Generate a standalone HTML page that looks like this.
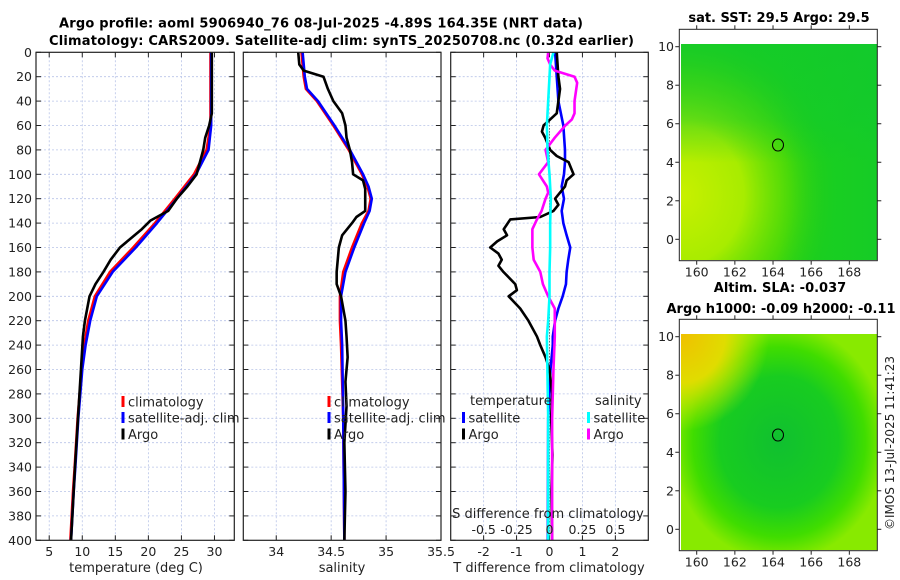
<!DOCTYPE html>
<html><head><meta charset="utf-8">
<style>
html,body{margin:0;padding:0;background:#fff;}
svg{display:block;font-family:"DejaVu Sans","Liberation Sans",sans-serif;}
</style></head>
<body>
<svg id="fig" width="900" height="580" viewBox="0 0 900 580" xmlns="http://www.w3.org/2000/svg">
  <defs>
    <radialGradient id="sstYellow" cx="0" cy="0.7" r="0.8">
      <stop offset="0" stop-color="#c8f000"/>
      <stop offset="0.4" stop-color="#a8ec00"/>
      <stop offset="0.7" stop-color="#60de00" stop-opacity="0.7"/>
      <stop offset="1" stop-color="#22cc11" stop-opacity="0"/>
    </radialGradient>
    <linearGradient id="sstNorth" x1="0" y1="0" x2="0" y2="1">
      <stop offset="0" stop-color="#10c830" stop-opacity="0.6"/>
      <stop offset="0.35" stop-color="#10c830" stop-opacity="0.4"/>
      <stop offset="0.55" stop-color="#10c830" stop-opacity="0"/>
    </linearGradient>
    <linearGradient id="sstEast" x1="0" y1="0" x2="1" y2="0">
      <stop offset="0.5" stop-color="#10c830" stop-opacity="0"/>
      <stop offset="1" stop-color="#10c830" stop-opacity="0.5"/>
    </linearGradient>
    <radialGradient id="slaGreen" cx="0.5" cy="0.5" r="0.55">
      <stop offset="0" stop-color="#10c030"/>
      <stop offset="0.55" stop-color="#18cc20"/>
      <stop offset="0.8" stop-color="#40dd00"/>
      <stop offset="1" stop-color="#88ea00"/>
    </radialGradient>
    <radialGradient id="slaOrange" cx="0" cy="0" r="0.45">
      <stop offset="0" stop-color="#f0c000"/>
      <stop offset="0.5" stop-color="#e0dc00"/>
      <stop offset="1" stop-color="#c0f000" stop-opacity="0"/>
    </radialGradient>
  </defs>
  <g id="titles">
    <text x="321" y="27.5" text-anchor="middle" font-size="13" font-weight="bold" textLength="524">Argo profile: aoml 5906940_76 08-Jul-2025 -4.89S 164.35E (NRT data)</text>
    <text x="341.5" y="45" text-anchor="middle" font-size="13" font-weight="bold" textLength="585">Climatology: CARS2009. Satellite-adj clim: synTS_20250708.nc (0.32d earlier)</text>
  </g>
  <g id="panels"></g>
  <g id="maps">
    <text x="779" y="22" text-anchor="middle" font-size="13" font-weight="bold">sat. SST: 29.5 Argo: 29.5</text>
    <rect x="681" y="44" width="196" height="216" fill="#1cd01c"/>
    <rect x="681" y="44" width="196" height="216" fill="url(#sstYellow)"/>
    <rect x="681" y="44" width="196" height="216" fill="url(#sstNorth)"/>
    <rect x="681" y="44" width="196" height="216" fill="url(#sstEast)"/>
    <rect x="679.3" y="29.3" width="198" height="231.4" fill="none" stroke="#222" stroke-width="1"/>
    <ellipse cx="778" cy="145" rx="5.5" ry="6" fill="none" stroke="#000" stroke-width="1"/>
    <text x="780" y="292" text-anchor="middle" font-size="13" font-weight="bold">Altim. SLA: -0.037</text>
    <text x="781" y="313" text-anchor="middle" font-size="13" font-weight="bold">Argo h1000: -0.09 h2000: -0.11</text>
    <rect x="681" y="334" width="196" height="216" fill="#88ea00"/>
    <rect x="681" y="334" width="196" height="216" fill="url(#slaGreen)"/>
    <rect x="681" y="334" width="196" height="216" fill="url(#slaOrange)"/>
    <rect x="679.3" y="319.3" width="198" height="231.4" fill="none" stroke="#222" stroke-width="1"/>
    <ellipse cx="778" cy="435" rx="5.5" ry="6" fill="none" stroke="#000" stroke-width="1"/>
    <text transform="translate(894,443) rotate(-90)" text-anchor="middle" font-size="12" fill="#222">©IMOS 13-Jul-2025 11:41:23</text>
  </g>
</svg>
<script>
const depthTicks = [0,20,40,60,80,100,120,140,160,180,200,220,240,260,280,300,320,340,360,380,400];
const tempTicks = [5,10,15,20,25,30];
const salTicks = [34,34.5,35,35.5];
const tdiffTicks = [-2,-1,0,1,2];
const sdiffTickLabels = ["-0.5","-0.25","0","0.25","0.5"];
const sdiffTicks = [-0.5,-0.25,0,0.25,0.5];

const climTDepth = [0,60,80,100,120,140,160,180,200,220,240,260,280,300,340,360,400];
const climT =      [29.4,29.4,28.8,26.9,24.0,21.0,17.7,14.2,11.9,10.9,10.3,9.9,9.6,9.3,8.85,8.6,8.2];
const satT =       [29.5,29.5,29.1,27.2,24.3,21.3,18.1,14.6,12.2,11.2,10.5,10.0,9.7,9.4,8.95,8.7,8.3];
const argoTDepth = [0,50,60,70,80,100,110,120,130,138,145,160,170,180,190,200,220,233,260,300,340,400];
const argoT =      [29.6,29.6,29.2,28.6,28.3,27.3,25.9,24.3,23.0,20.3,19.0,15.7,14.3,13.2,12.0,11.1,10.4,10.1,9.8,9.35,8.9,8.3];

const climSDepth = [0,20,30,40,60,80,100,110,120,130,140,160,180,200,220,240,300,400];
const climS =      [34.23,34.25,34.27,34.37,34.52,34.66,34.78,34.83,34.86,34.84,34.78,34.69,34.61,34.58,34.58,34.59,34.61,34.62];
const satS =       [34.24,34.26,34.28,34.38,34.53,34.67,34.79,34.84,34.87,34.85,34.80,34.71,34.63,34.59,34.59,34.60,34.61,34.62];
const argoSDepth = [0,10,15,20,25,30,40,50,60,70,80,90,100,105,112,120,130,135,140,150,160,180,190,200,220,233,250,270,290,320,360,400];
const argoS =      [34.20,34.21,34.25,34.43,34.45,34.47,34.52,34.60,34.63,34.64,34.67,34.69,34.70,34.79,34.81,34.81,34.81,34.73,34.69,34.60,34.57,34.55,34.55,34.59,34.63,34.64,34.65,34.63,34.64,34.62,34.63,34.62];

const dTDepth = [0,20,30,40,50,55,60,65,70,80,85,90,100,105,110,115,120,125,130,135,137,145,150,155,160,165,170,175,180,190,195,200,210,220,233,240,250,260,280,300,330,360,400];
const argoDT =  [0.22,0.27,0.32,0.27,0.22,0.02,-0.18,-0.23,-0.13,0.02,0.22,0.58,0.73,0.52,0.47,0.32,0.17,0.27,0.12,-0.28,-1.19,-1.39,-1.29,-1.59,-1.80,-1.55,-1.45,-1.55,-1.40,-1.04,-0.99,-1.24,-0.89,-0.64,-0.38,-0.28,-0.12,0.0,0.08,0.05,0.09,0.06,0.08];
const satDTDepth = [0,20,40,60,80,90,100,110,120,130,140,150,160,170,180,190,200,210,220,233,240,260,300,400];
const satDT =      [0.17,0.22,0.27,0.42,0.47,0.47,0.44,0.37,0.44,0.37,0.42,0.52,0.63,0.57,0.52,0.50,0.40,0.27,0.17,0.10,0.10,0.03,-0.04,-0.05];
const satDSDepth = [0,10,20,40,60,80,100,120,140,160,180,200,220,233,300,400];
const satDS =      [0.03,0.005,0.0,-0.01,-0.02,-0.015,0.0,0.01,0.005,0.005,0.0,0.0,-0.01,-0.02,-0.01,-0.01];
const argoDSDepth = [0,5,10,15,20,25,40,50,55,60,70,80,90,100,110,115,120,130,138,145,160,170,180,190,200,210,220,233,260,300,350,400];
const argoDS =      [-0.01,-0.015,0.005,0.04,0.19,0.21,0.19,0.19,0.17,0.12,0.04,-0.03,-0.01,-0.08,-0.02,-0.01,-0.03,-0.06,-0.10,-0.13,-0.13,-0.12,-0.07,-0.05,-0.01,0.04,0.04,0.04,0.03,0.02,0.02,0.02];

const NS = "http://www.w3.org/2000/svg";
const Y0 = 52.3, Y1 = 540.3, DMAX = 400;
function yScale(d){ return Y0 + d/DMAX*(Y1-Y0); }
function mkScale(x0,x1,v0,v1){ return v => x0 + (v-v0)/(v1-v0)*(x1-x0); }
const xT  = mkScale(36,234.3,3,33);
const xS  = mkScale(243.3,441,33.7,35.5);
const xDT = mkScale(450.7,648.3,-3,3);
const xDS = mkScale(450.7,648.3,-0.75,0.75);
const root = document.getElementById('panels');

function el(tag, attrs, parent){
  const e = document.createElementNS(NS, tag);
  for (const k in attrs) e.setAttribute(k, attrs[k]);
  (parent||root).appendChild(e);
  return e;
}
function txt(x,y,s,size,anchor,parent){
  const t = el('text',{x:x,y:y,'font-size':size,'text-anchor':anchor||'middle',fill:'#222'},parent);
  t.textContent = s;
  return t;
}

function panel(name, xl, xr, xTicks, xs, xLabels, xTitle, xTitleX){
  const g = el('g',{});
  
  
  xTicks.forEach(v=>{
    const X = xs(v);
    if (X>xl+1 && X<xr-1){
      const l = el('line',{x1:X,x2:X,y1:Y0,y2:Y1,stroke:'#b8c4e8','stroke-width':0.8,'stroke-dasharray':'2,2'},g);
      
      
    }
    const tk1 = el('line',{x1:X,x2:X,y1:Y1,y2:Y1-5,stroke:'#222','stroke-width':1},g);
    
    
    const tk2 = el('line',{x1:X,x2:X,y1:Y0,y2:Y0+5,stroke:'#222','stroke-width':1},g);
    
    
  });
  depthTicks.forEach(d=>{
    const Y = yScale(d);
    if (d>0 && d<DMAX){
      const l = el('line',{x1:xl,x2:xr,y1:Y,y2:Y,stroke:'#b8c4e8','stroke-width':0.8,'stroke-dasharray':'2,2'},g);
      
      
    }
    const a = el('line',{x1:xl,x2:xl+5,y1:Y,y2:Y,stroke:'#222','stroke-width':1},g);
    
    
    const b = el('line',{x1:xr,x2:xr-5,y1:Y,y2:Y,stroke:'#222','stroke-width':1},g);
    
    
  });
  xLabels.forEach((s,i)=>{
    const t = txt(xs(xTicks[i]), 556, s, 12.5, 'middle', g);
    
    
  });
  const tt = txt(xTitleX, 572, xTitle, 13, 'middle', g);
  
  
  return g;
}

function frame(g, xl, xr){
  const f = el('rect',{x:xl,y:Y0,width:xr-xl,height:Y1-Y0,fill:'none',stroke:'#222','stroke-width':1.2},g);
  
  
}

function line(g, depths, vals, xs, color, name, w){
  const pts = depths.map((d,i)=> xs(vals[i]).toFixed(2)+','+yScale(d).toFixed(2)).join(' ');
  const p = el('polyline',{points:pts,fill:'none',stroke:color,'stroke-width':w||2.6,'stroke-linejoin':'round'},g);
  
  
  return p;
}

function legendEntry(g, mx, y, color, label, name){
  const m = el('rect',{x:mx-1.5,y:y-6,width:3,height:11,fill:color},g);
  
  
  const t = txt(mx+5, y+4.5, label, 13, 'start', g);
  
  
}

const g1 = panel('temperature-panel', 36, 234.3, tempTicks, xT, tempTicks.map(String), 'temperature (deg C)', 136);
depthTicks.forEach(d=>{
  const t = txt(32, yScale(d)+4.5, String(d), 12.5, 'end', g1);
  
  
});
line(g1, climTDepth, climT, xT, '#ff0000', 'temperature-climatology-line');
line(g1, climTDepth, satT, xT, '#0000ff', 'temperature-satellite-line');
line(g1, argoTDepth, argoT, xT, '#000000', 'temperature-argo-line');
legendEntry(g1, 123, 402, '#ff0000', 'climatology', 'legend-climatology');
legendEntry(g1, 123, 418, '#0000ff', 'satellite-adj. clim', 'legend-satellite');
legendEntry(g1, 123, 434.5, '#000000', 'Argo', 'legend-argo');
frame(g1, 36, 234.3);

const g2 = panel('salinity-panel', 243.3, 441, salTicks, xS, ['34','34.5','35','35.5'], 'salinity', 342);
line(g2, climSDepth, climS, xS, '#ff0000', 'salinity-climatology-line');
line(g2, climSDepth, satS, xS, '#0000ff', 'salinity-satellite-line');
line(g2, argoSDepth, argoS, xS, '#000000', 'salinity-argo-line');
legendEntry(g2, 329, 402, '#ff0000', 'climatology', 'legend-climatology');
legendEntry(g2, 329, 418, '#0000ff', 'satellite-adj. clim', 'legend-satellite');
legendEntry(g2, 329, 434.5, '#000000', 'Argo', 'legend-argo');
frame(g2, 243.3, 441);

const g3 = panel('difference-panel', 450.7, 648.3, tdiffTicks, xDT, tdiffTicks.map(String), 'T difference from climatology', 549);
const zl = el('line',{x1:xDT(0),x2:xDT(0),y1:yScale(55),y2:yScale(400),stroke:'#333','stroke-width':1,'stroke-dasharray':'1,2'},g3);


line(g3, satDTDepth, satDT, xDT, '#0000ff', 'tdiff-satellite-line');
line(g3, dTDepth, argoDT, xDT, '#000000', 'tdiff-argo-line');
line(g3, argoDSDepth, argoDS, xDS, '#ff00ff', 'sdiff-argo-line');
line(g3, satDSDepth, satDS, xDS, '#00ffff', 'sdiff-satellite-line');
const lt = txt(470, 405, 'temperature', 13, 'start', g3);


const ls = txt(595, 405, 'salinity', 13, 'start', g3);


legendEntry(g3, 463.5, 418, '#0000ff', 'satellite', 'legend-tdiff-satellite');
legendEntry(g3, 463.5, 434.5, '#000000', 'Argo', 'legend-tdiff-argo');
legendEntry(g3, 588.5, 418, '#00ffff', 'satellite', 'legend-sdiff-satellite');
legendEntry(g3, 588.5, 434.5, '#ff00ff', 'Argo', 'legend-sdiff-argo');
const st = txt(548, 518, 'S difference from climatology', 13, 'middle', g3);


sdiffTickLabels.forEach((s,i)=>{
  const t = txt(xDS(sdiffTicks[i]), 534, s, 12.5, 'middle', g3);
  
  
});
frame(g3, 450.7, 648.3);

const mapLonTicks = [160,162,164,166,168];
const mapLatTicks = [0,2,4,6,8,10];
function mapAxes(name, top, lat10y, lat0y){
  const g = el('g',{}, document.getElementById('maps'));
  
  
  const xl = 679.3, xr = 877.3, yb = top+231.4;
  const lon = v => 696.7 + (v-160)*19.08;
  const lat = v => lat0y + (v)*(lat10y-lat0y)/10;
  mapLonTicks.forEach(v=>{
    const X = lon(v);
    const a = el('line',{x1:X,x2:X,y1:yb,y2:yb+4,stroke:'#222'},g);
    
    
    const b = el('line',{x1:X,x2:X,y1:top,y2:top-4,stroke:'#222'},g);
    
    
    const t = txt(X, yb+16, String(v), 12.5, 'middle', g);
    
    
  });
  mapLatTicks.forEach(v=>{
    const Y = lat(v);
    const a = el('line',{x1:xl,x2:xl-4,y1:Y,y2:Y,stroke:'#222'},g);
    
    
    const b = el('line',{x1:xr,x2:xr+4,y1:Y,y2:Y,stroke:'#222'},g);
    
    
    const t = txt(674, Y+4.5, String(v), 12.5, 'end', g);
    
    
  });
}
mapAxes('sst-map-axes', 29.3, 46.7, 239.3);
mapAxes('sla-map-axes', 319.3, 336.7, 529.3);
</script>
</body></html>
